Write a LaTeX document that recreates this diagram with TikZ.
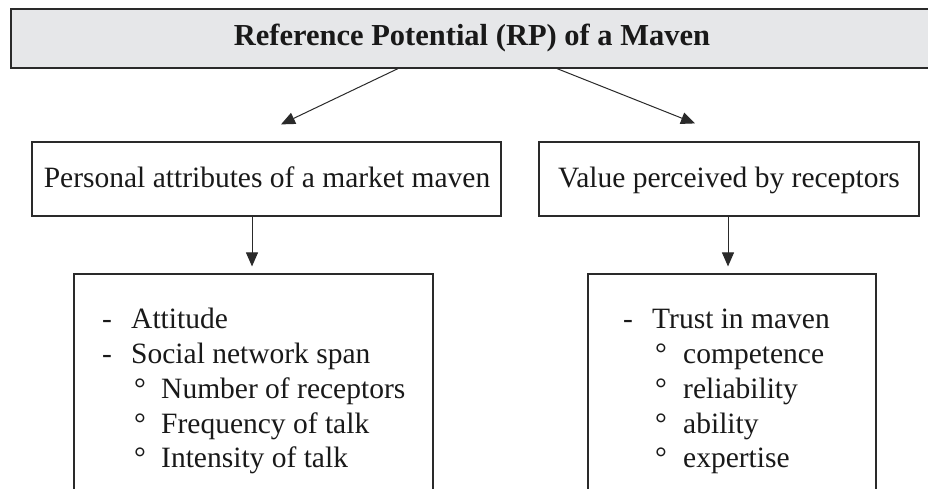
\documentclass[tikz,border=0pt]{standalone}
\usepackage{fontspec}
\setmainfont{Liberation Serif}
\usetikzlibrary{arrows.meta}
\definecolor{topfill}{HTML}{E6E7E9}
\definecolor{edge}{HTML}{2A2A2A}
\tikzset{
  boxline/.style={draw=edge, line width=1.2pt, inner sep=0pt},
  conn/.style={draw=edge, line width=1pt, -{Triangle[length=14pt,width=12pt]}},
  txt/.style={font=\fontsize{29.5}{34}\selectfont, inner sep=0pt, anchor=base west, text=black!90},
  ttl/.style={font=\bfseries\fontsize{30.5}{34}\selectfont, inner sep=0pt, text=black!90},
}
\begin{document}
\begin{tikzpicture}[x=1pt, y=-1pt]
\useasboundingbox (0,0) rectangle (928,488);
\clip (0,0) rectangle (928,488);
\fill[white] (0,0) rectangle (928,488);
% boxes
\node[boxline, fill=topfill, minimum width=928pt, minimum height=59pt] (top) at (475,38.5) {};
\node[ttl, anchor=base] (title) at (472,45) {Reference Potential (RP) of a Maven};
\node[boxline, minimum width=469pt, minimum height=74pt] (pa) at (266.5,179) {};
\node[txt, anchor=base] (patext) at (267,187) {Personal attributes of a market maven};
\node[boxline, minimum width=380pt, minimum height=74pt] (vr) at (729,179) {};
\node[txt, anchor=base] (vrtext) at (729,187) {Value perceived by receptors};
\node[boxline, minimum width=359pt, minimum height=240pt] (lb) at (253.5,394) {};
\node[boxline, minimum width=288pt, minimum height=240pt] (rb) at (732,394) {};
% left list
\node[txt] (l1d) at (102,328) {-};
\node[txt] (l1) at (131,328) {Attitude};
\node[txt] (l2d) at (102,363) {-};
\node[txt] (l2) at (131,363) {Social network span};
\node[txt] (l3d) at (134,398) {°};
\node[txt] (l3) at (161,398) {Number of receptors};
\node[txt] (l4d) at (134,433) {°};
\node[txt] (l4) at (161,433) {Frequency of talk};
\node[txt] (l5d) at (134,467) {°};
\node[txt] (l5) at (161,467) {Intensity of talk};
% right list
\node[txt] (r1d) at (623,328) {-};
\node[txt] (r1) at (652,328) {Trust in maven};
\node[txt] (r2d) at (655,363) {°};
\node[txt] (r2) at (683,363) {competence};
\node[txt] (r3d) at (655,398) {°};
\node[txt] (r3) at (683,398) {reliability};
\node[txt] (r4d) at (655,433) {°};
\node[txt] (r4) at (683,433) {ability};
\node[txt] (r5d) at (655,467) {°};
\node[txt] (r5) at (683,467) {expertise};
% connectors
\coordinate (a1s) at ([xshift=-77pt]top.south);
\coordinate (a1e) at ([shift={(14.5pt,17pt)}]pa.north);
\coordinate (a2s) at ([xshift=82pt]top.south);
\coordinate (a2e) at ([shift={(-34pt,18pt)}]vr.north);
\draw[conn] (a1s) -- (a1e);
\draw[conn] (a2s) -- (a2e);
\coordinate (a3s) at ([xshift=-14.5pt]pa.south);
\coordinate (a3e) at ([shift={(-1.5pt,7pt)}]lb.north);
\draw[conn] (a3s) -- (a3e);
\coordinate (a4s) at ([xshift=-1pt]vr.south);
\coordinate (a4e) at ([shift={(-4pt,7pt)}]rb.north);
\draw[conn] (a4s) -- (a4e);
\end{tikzpicture}
\end{document}
